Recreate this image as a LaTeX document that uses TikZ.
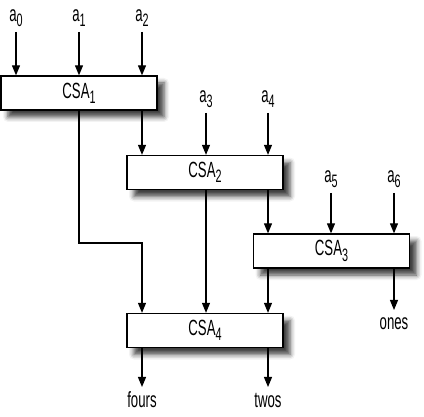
\documentclass[tikz,border=0pt]{standalone}
\usepackage{fontspec}
\setmainfont[FakeStretch=0.6]{Liberation Sans}
\usetikzlibrary{arrows.meta,shadows.blur}
\newcommand\mysub[1]{\raisebox{-0.45ex}{\fontsize{18}{18}\selectfont #1}}
\begin{document}
\begin{tikzpicture}[x=1pt,y=-1pt,
 csa/.style={draw=black,line width=1.3pt,fill=white,minimum width=156pt,minimum height=34pt,inner sep=0pt,
   font=\fontsize{22}{24}\selectfont,
   blur shadow={shadow xshift=7pt,shadow yshift=-7pt,shadow blur radius=5pt,shadow opacity=75}},
 lbl/.style={font=\fontsize{22}{24}\selectfont,inner sep=0pt,text height=14pt,text depth=5pt},
 arr/.style={line width=1.1pt,-{Triangle[length=10pt,width=8pt]}}]
\useasboundingbox (0,0) rectangle (424,417);
\node[csa] (c1) at (79,93) {CSA\mysub{1}};
\node[csa] (c2) at (205,172.5) {CSA\mysub{2}};
\node[csa] (c3) at (331.5,251) {CSA\mysub{3}};
\node[csa] (c4) at (205,330.5) {CSA\mysub{4}};
\node[lbl] (a0) at (16,17) {a\mysub{0}};
\node[lbl] (a1) at (79,17) {a\mysub{1}};
\node[lbl] (a2) at (142,17) {a\mysub{2}};
\node[lbl] (a3) at (206,98) {a\mysub{3}};
\node[lbl] (a4) at (268,98) {a\mysub{4}};
\node[lbl] (a5) at (331,178) {a\mysub{5}};
\node[lbl] (a6) at (394,178) {a\mysub{6}};
\node[lbl] (ones) at (394,325) {ones};
\node[lbl] (fours) at (142,403) {fours};
\node[lbl] (twos) at (268,403) {twos};
\coordinate (b1) at (79,243);
\coordinate (b2) at (142,243);
% inputs
\foreach \a/\c in {a0/c1,a1/c1,a2/c1,a3/c2,a4/c2,a5/c3,a6/c3}
  \draw[arr] ([yshift=-15pt]\a.center) -- (\a |- \c.north);
% internal
\draw[arr] (c1.south -| a2) -- (a2 |- c2.north);
\draw[arr] (c1.south -| a1) -- (b1) -- (b2) -- (b2 |- c4.north);
\draw[arr] (c2.south -| a3) -- (a3 |- c4.north);
\draw[arr] (c2.south -| a4) -- (a4 |- c3.north);
\draw[arr] (c3.south -| a4) -- (a4 |- c4.north);
% outputs
\draw[arr] (c3.south -| ones) -- ([yshift=15pt]ones.center);
\draw[arr] (c4.south -| fours) -- ([yshift=16pt]fours.center);
\draw[arr] (c4.south -| twos) -- ([yshift=16pt]twos.center);
\end{tikzpicture}
\end{document}
